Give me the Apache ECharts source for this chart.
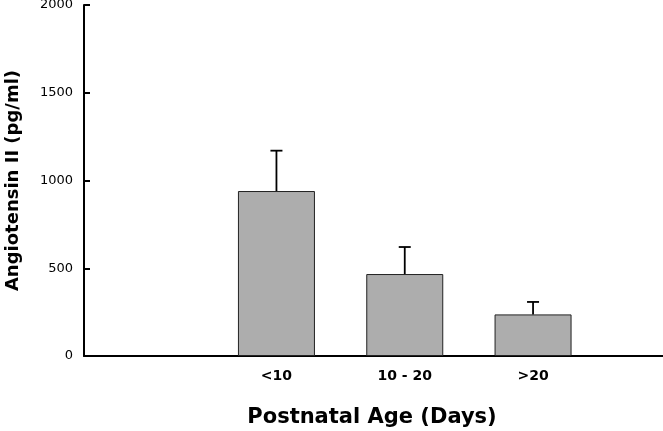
<!DOCTYPE html>
<html>
<head>
<meta charset="utf-8">
<script src="https://cdn.jsdelivr.net/npm/echarts@6/dist/echarts.min.js"></script>
<style>
html,body{margin:0;padding:0;background:#fff;}
#chart{width:663px;height:431px;}
</style>
</head>
<body>
<div id="chart"></div>
<script>
const categories = ['', '<10', '10 - 20', '>20', ''];
const means = [null, 940, 467, 237, null];
const upperErr = [null, 1170, 621, 308, null];
const yMin = 0, yMax = 2000, yInterval = 500;
const xTitle = 'Postnatal Age (Days)';
const yTitle = 'Angiotensin II (pg/ml)';

const barData = means.map(v => v == null ? '-' : v);
const errData = categories.map((c, i) => upperErr[i] == null ? null : [i, means[i], upperErr[i]]).filter(Boolean);

const chart = echarts.init(document.getElementById('chart'), null, {renderer: 'canvas'});
const font = '"DejaVu Sans", Verdana, sans-serif';
chart.setOption({
  animation: false,
  backgroundColor: '#ffffff',
  grid: {left: 84, top: 5, bottom: 75, width: 641.5, containLabel: false, outerBoundsMode: 'none'},
  graphic: [{
    type: 'text',
    x: 372, y: 418,
    style: {text: xTitle, font: 'bold 21px ' + font, fill: '#000', align: 'center', verticalAlign: 'middle'}
  }],
  xAxis: {
    type: 'category',
    data: categories,
    boundaryGap: true,
    axisLine: {lineStyle: {color: '#000', width: 2}},
    axisTick: {show: false},
    axisLabel: {fontFamily: font, fontWeight: 'bold', fontSize: 14, color: '#000', margin: 13, interval: 0},
    splitLine: {show: false}
  },
  yAxis: {
    type: 'value',
    min: yMin, max: yMax, interval: yInterval,
    name: yTitle,
    nameLocation: 'middle',
    nameGap: 62,
    nameTextStyle: {fontFamily: font, fontWeight: 'bold', fontSize: 18, color: '#000'},
    axisLine: {show: true, lineStyle: {color: '#000', width: 2}},
    axisTick: {show: true, inside: true, length: 6, lineStyle: {color: '#000', width: 2}},
    axisLabel: {fontFamily: font, fontSize: 13, color: '#000', margin: 11, formatter: v => String(v)},
    splitLine: {show: false}
  },
  series: [
    {
      type: 'bar',
      data: barData,
      barWidth: 77,
      itemStyle: {color: '#adadad', borderColor: '#222', borderWidth: 1}
    },
    {
      type: 'custom',
      data: errData,
      encode: {x: 0, y: [1, 2]},
      z: 3,
      renderItem: function (params, api) {
        const base = api.coord([api.value(0), api.value(1)]);
        const top = api.coord([api.value(0), api.value(2)]);
        const half = 6;
        const style = {stroke: '#000', lineWidth: 1.8};
        return {
          type: 'group',
          children: [
            {type: 'line', shape: {x1: base[0], y1: base[1], x2: top[0], y2: top[1]}, style: style},
            {type: 'line', shape: {x1: top[0] - half, y1: top[1], x2: top[0] + half, y2: top[1]}, style: style}
          ]
        };
      }
    }
  ]
});
</script>
</body>
</html>
